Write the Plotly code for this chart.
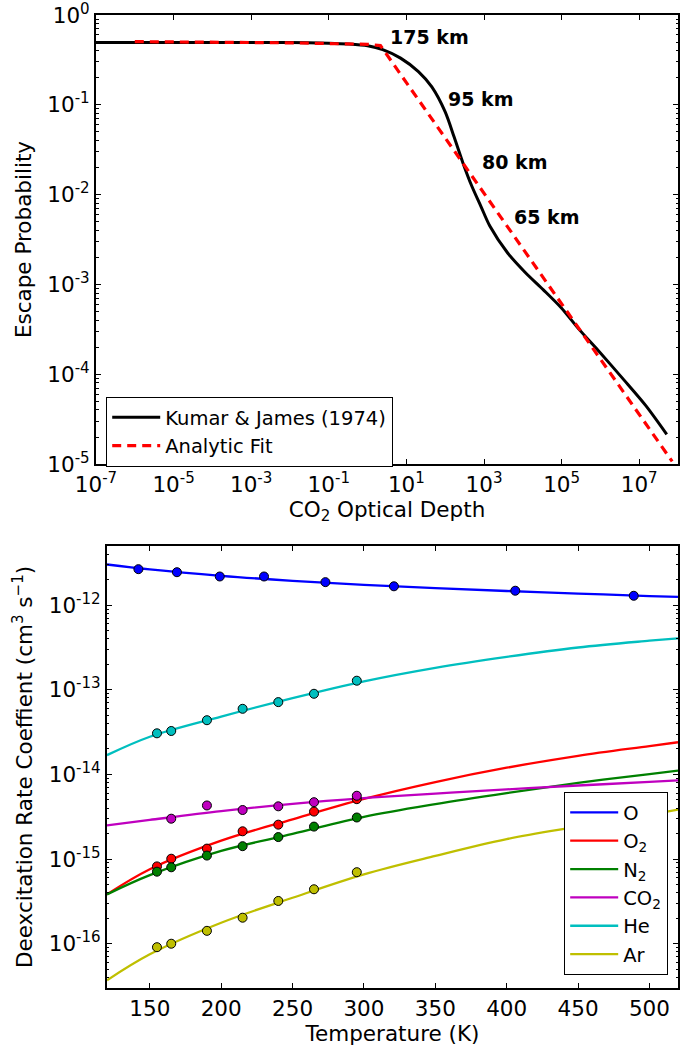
import plotly.graph_objects as go

# ---------------- Top panel: escape probability ----------------
kj_tau = [1e-7, 1e-5, 1e-3, 1e-2, 1e-1, 0.316, 1, 2.45, 7.08, 20.4, 45.2, 100, 170,
          288, 490, 832, 1413, 4074, 11750, 33900, 97700, 2.82e5, 8.13e5,
          3.98e6, 1.48e7, 5.13e7]
kj_prob = [0.495, 0.495, 0.494, 0.493, 0.486, 0.476, 0.455, 0.412, 0.331, 0.234, 0.158,
           0.0832, 0.0437, 0.0224, 0.0123, 0.00741, 0.00447, 0.00224, 0.00135, 8.71e-4,
           5.50e-4, 3.16e-4, 1.91e-4, 8.71e-5, 4.47e-5, 2.14e-5]

fit_tau = [1e-6, 1e-4, 1e-2, 1, 2.14, 10, 100, 1e3, 1e4, 1e5, 1e6, 1e7, 7.08e7]
fit_prob = [0.505, 0.500, 0.490, 0.472, 0.457, 0.1766, 0.0428, 0.01035, 2.51e-3,
            6.07e-4, 1.47e-4, 3.56e-5, 1.07e-5]

alt_labels = ["175 km", "95 km", "80 km", "65 km"]
alt_tau_log = [0.53, 2.02, 2.90, 3.72]
alt_prob_log = [-0.245, -0.935, -1.637, -2.25]

top_xtick_vals = [1e-7, 1e-5, 1e-3, 1e-1, 1e1, 1e3, 1e5, 1e7]
top_xtick_text = ["10<sup>-7</sup>", "10<sup>-5</sup>", "10<sup>-3</sup>", "10<sup>-1</sup>",
                  "10<sup>1</sup>", "10<sup>3</sup>", "10<sup>5</sup>", "10<sup>7</sup>"]
top_ytick_vals = [1e-5, 1e-4, 1e-3, 1e-2, 1e-1, 1]
top_ytick_text = ["10<sup>-5</sup>", "10<sup>-4</sup>", "10<sup>-3</sup>", "10<sup>-2</sup>",
                  "10<sup>-1</sup>", "10<sup>0</sup>"]

# ---------------- Bottom panel: deexcitation rate coefficients ----------------
species = ["O", "O<sub>2</sub>", "N<sub>2</sub>", "CO<sub>2</sub>", "He", "Ar"]
colors = ["#0000ff", "#ff0000", "#008000", "#bf00bf", "#00bfbf", "#bfbf00"]

T_fit = [120, 150, 200, 250, 300, 350, 400, 450, 500, 520]
k_fit_O = [3.02e-12, 2.64e-12, 2.22e-12, 1.94e-12, 1.74e-12, 1.59e-12, 1.47e-12, 1.37e-12, 1.28e-12, 1.25e-12]
k_fit_O2 = [3.83e-16, 7.59e-16, 1.65e-15, 2.95e-15, 5.13e-15, 8.13e-15, 1.20e-14, 1.66e-14, 2.16e-14, 2.40e-14]
k_fit_N2 = [3.83e-16, 6.46e-16, 1.25e-15, 1.98e-15, 3.16e-15, 4.47e-15, 6.03e-15, 7.94e-15, 1.01e-14, 1.11e-14]
k_fit_CO2 = [2.50e-15, 2.90e-15, 3.68e-15, 4.50e-15, 5.26e-15, 5.93e-15, 6.66e-15, 7.40e-15, 8.15e-15, 8.50e-15]
k_fit_He = [1.69e-14, 2.79e-14, 4.83e-14, 7.98e-14, 1.26e-13, 1.82e-13, 2.45e-13, 3.16e-13, 3.80e-13, 4.06e-13]
k_fit_Ar = [3.7e-17, 7.5e-17, 1.77e-16, 3.49e-16, 6.6e-16, 1.09e-15, 1.72e-15, 2.42e-15, 3.35e-15, 3.85e-15]

T_O = [142, 169, 199, 230, 273, 321, 406, 489]
k_O = [2.66e-12, 2.45e-12, 2.18e-12, 2.18e-12, 1.87e-12, 1.67e-12, 1.48e-12, 1.29e-12]
T_lab = [155, 165, 190, 215, 240, 265, 295]
k_O2 = [8.2e-16, 1.01e-15, 1.33e-15, 2.13e-15, 2.55e-15, 3.64e-15, 5.1e-15]
k_N2 = [7.1e-16, 8.0e-16, 1.1e-15, 1.42e-15, 1.82e-15, 2.42e-15, 3.1e-15]
T_CO2 = [165, 190, 215, 240, 265, 295]
k_CO2 = [3.0e-15, 4.3e-15, 3.8e-15, 4.2e-15, 4.7e-15, 5.6e-15]
k_He = [3.06e-14, 3.26e-14, 4.37e-14, 5.96e-14, 7.15e-14, 8.97e-14, 1.28e-13]
k_Ar = [9.1e-17, 1.0e-16, 1.42e-16, 2.03e-16, 3.2e-16, 4.4e-16, 7.0e-16]

bot_xtick_vals = [150, 200, 250, 300, 350, 400, 450, 500]
bot_ytick_vals = [1e-16, 1e-15, 1e-14, 1e-13, 1e-12]
bot_ytick_text = ["10<sup>-16</sup>", "10<sup>-15</sup>", "10<sup>-14</sup>", "10<sup>-13</sup>",
                  "10<sup>-12</sup>"]

FONT = "DejaVu Sans"
TICK_SIZE = 21.5
TITLE_SIZE = 21.5
LEG_SIZE = 19.5

fig = go.Figure()

# top traces
fig.add_trace(go.Scatter(x=kj_tau, y=kj_prob, mode="lines", name="Kumar &amp; James (1974)",
                         line=dict(color="black", width=3, shape="spline", smoothing=0.8),
                         xaxis="x", yaxis="y", legend="legend"))
fig.add_trace(go.Scatter(x=fit_tau, y=fit_prob, mode="lines", name="Analytic Fit",
                         line=dict(color="#ff0000", width=3.2, dash="9px,6px"),
                         xaxis="x", yaxis="y", legend="legend"))

# bottom traces
fit_sets = [k_fit_O, k_fit_O2, k_fit_N2, k_fit_CO2, k_fit_He, k_fit_Ar]
pt_T = [T_O, T_lab, T_lab, T_CO2, T_lab, T_lab]
pt_k = [k_O, k_O2, k_N2, k_CO2, k_He, k_Ar]
for name, col, kf in zip(species, colors, fit_sets):
    fig.add_trace(go.Scatter(x=T_fit, y=kf, mode="lines", name=name,
                             line=dict(color=col, width=2.3, shape="spline"),
                             xaxis="x2", yaxis="y2", legend="legend2"))
for name, col, tx, ky in zip(species, colors, pt_T, pt_k):
    fig.add_trace(go.Scatter(x=tx, y=ky, mode="markers", name=name, showlegend=False,
                             marker=dict(color=col, size=9, line=dict(color="black", width=1)),
                             xaxis="x2", yaxis="y2"))

axis_common = dict(showline=True, linewidth=2, linecolor="black", mirror="allticks",
                   ticks="inside", ticklen=5, tickwidth=1.3, tickcolor="black",
                   showgrid=False, zeroline=False, automargin=False,
                   ticklabeloverflow="allow",
                   tickfont=dict(family=FONT, size=TICK_SIZE, color="black"))
minor_log = dict(ticks="inside", ticklen=2.5, tickwidth=1, tickcolor="black",
                 dtick="D1", showgrid=False)

for ann_text, ax_, ay_ in zip(alt_labels, alt_tau_log, alt_prob_log):
    fig.add_annotation(x=ax_, y=ay_, xref="x", yref="y", text="<b>" + ann_text + "</b>",
                       showarrow=False, xanchor="left", yanchor="middle",
                       font=dict(family=FONT, size=19, color="black"))

fig.update_layout(
    width=698, height=1046,
    margin=dict(l=96, r=20, t=15, b=58, autoexpand=False),
    paper_bgcolor="white", plot_bgcolor="white",
    font=dict(family=FONT, color="black"),
    xaxis=dict(type="log", range=[-7, 8], domain=[0, 1], anchor="y",
               tickmode="array", tickvals=top_xtick_vals, ticktext=top_xtick_text,
               title=dict(text="CO<sub>2</sub> Optical Depth", standoff=4,
                          font=dict(family=FONT, size=TITLE_SIZE, color="black")),
               **axis_common),
    yaxis=dict(type="log", range=[-5, 0], domain=[0.5385, 1], anchor="x",
               tickmode="array", tickvals=top_ytick_vals, ticktext=top_ytick_text,
               minor=minor_log,
               title=dict(text="Escape Probability", standoff=10,
                          font=dict(family=FONT, size=TITLE_SIZE, color="black")),
               **axis_common),
    xaxis2=dict(range=[120, 520], domain=[0.0189, 1], anchor="y2",
                tickmode="array", tickvals=bot_xtick_vals,
                title=dict(text="Temperature (K)", standoff=4,
                           font=dict(family=FONT, size=TITLE_SIZE, color="black")),
                **axis_common),
    yaxis2=dict(type="log", range=[-16.523, -11.301], domain=[0, 0.4543], anchor="x2",
                tickmode="array", tickvals=bot_ytick_vals, ticktext=bot_ytick_text,
                minor=minor_log,
                title=dict(text="Deexcitation Rate Coeffient (cm<sup>3</sup> s<sup>\u22121</sup>)",
                           standoff=10,
                           font=dict(family=FONT, size=TITLE_SIZE, color="black")),
                **axis_common),
    legend=dict(x=0.0172, y=0.6074, xanchor="left", yanchor="top",
                bgcolor="white", bordercolor="black", borderwidth=1.2,
                font=dict(family=FONT, size=LEG_SIZE, color="black"),
                itemwidth=48),
    legend2=dict(x=0.9828, y=0.0134, xanchor="right", yanchor="bottom",
                 bgcolor="white", bordercolor="black", borderwidth=1.2,
                 font=dict(family=FONT, size=LEG_SIZE, color="black"),
                 itemwidth=48),
    showlegend=True,
)

fig.write_html("out.html", config={"displayModeBar": False},
               post_script="document.body.style.margin='0px';")
